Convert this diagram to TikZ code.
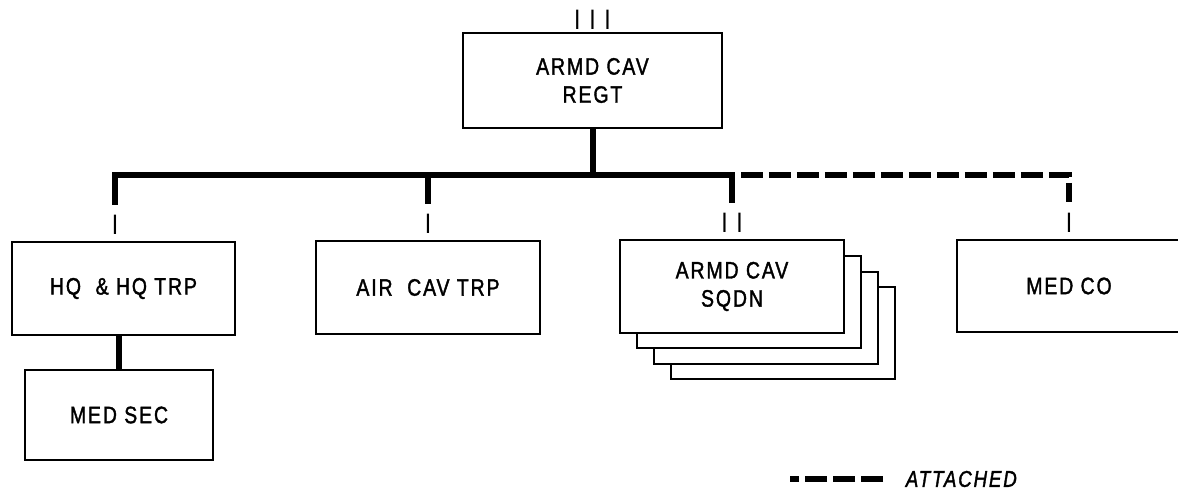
\documentclass[tikz,border=0pt]{standalone}
\usepackage{fontspec}
\setmainfont{Liberation Sans}[FakeStretch=0.82,LetterSpace=8,FakeBold=1.5]
\newfontfamily\markfont{Liberation Sans}[FakeStretch=0.82,LetterSpace=8]
\usepackage{tikz}
\usetikzlibrary{positioning}

\tikzset{
  unit/.style={draw,line width=0.04cm,fill=white,minimum width=4.48cm,minimum height=1.86cm,align=center,font=\fontsize{13.5pt}{16pt}\selectfont},
  echelon/.style={inner sep=0pt,font=\markfont\fontsize{16pt}{16pt}\selectfont},
  link/.style={line width=0.12cm},
  attach/.style={line width=0.12cm,dash pattern=on 0.44cm off 0.12cm},
}

\begin{document}
\begin{tikzpicture}[x=0.02cm,y=-0.02cm]
  \useasboundingbox (0,0) rectangle (1178,492);
  \coordinate (bus) at (0,175);
  % regiment
  \node[unit,minimum width=5.18cm,minimum height=1.9cm] (regt) at (592.5,80.5) {ARMD CAV\\REGT};
  \node[echelon,above=0.04cm of regt] (regtmark) {I I I};
  % troops and squadrons
  \node[unit] (hq) at (123.5,288.5) {HQ \ \& HQ TRP};
  \node[echelon,above=0.12cm of hq,xshift=-0.17cm] (hqmark) {I};
  \node[unit,minimum width=3.76cm,minimum height=1.8cm] (medsec) at (119,415) {MED SEC};
  \node[unit] (aircav) at (428,287.5) {AIR \ CAV TRP};
  \node[echelon,above=0.12cm of aircav] (aircavmark) {I};
  \node[unit] (sqdnd) at (783,333) {};
  \node[unit] (sqdnc) at (766,318) {};
  \node[unit] (sqdnb) at (749,302) {};
  \node[unit] (sqdn) at (732,286.5) {ARMD CAV\\SQDN};
  \node[echelon,above=0.12cm of sqdn] (sqdnmark) {I I};
  \node[unit] (medco) at (1069,286) {MED CO};
  \node[echelon,above=0.12cm of medco] (medcomark) {I};
  % connectors
  \draw[link] (regt) -- (regt.south |- bus);
  \draw[link,shorten <=0.2cm,shorten >=0.2cm] (hqmark.north) |- (sqdnmark.north |- bus) -- (sqdnmark.north);
  \draw[link,shorten >=0.2cm] (aircavmark.north |- bus) -- (aircavmark.north);
  \draw[attach,dash phase=0.38cm,shorten >=0.2cm] (sqdnmark.north |- bus) -| (medcomark.north);
  \draw[link] (medsec.north) -- (medsec.north |- hq.south);
  % key
  \coordinate (keyl) at (790,479);
  \coordinate (keyr) at (883,479);
  \draw[attach] (keyr) -- (keyl);
  \node[right=0.45cm of keyr,inner sep=0pt,font=\fontsize{13pt}{13pt}\selectfont\itshape] (keytext) {ATTACHED};
\end{tikzpicture}
\end{document}
